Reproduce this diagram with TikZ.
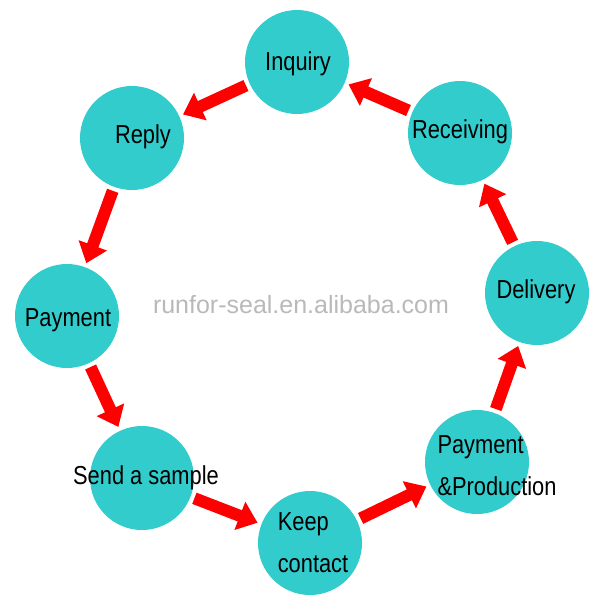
\documentclass[tikz,border=0pt]{standalone}
\usepackage{fontspec}
\setmainfont{Liberation Sans}
\newfontfamily\narrowfont{Liberation Sans}[FakeStretch=0.84]
\usetikzlibrary{arrows.meta,positioning}

\definecolor{stepcyan}{RGB}{51,204,204}
\definecolor{steparrow}{RGB}{255,0,0}

\tikzset{
  stop/.style={circle,fill=stepcyan,minimum size=104pt,inner sep=0pt},
  stoptext/.style={font=\narrowfont\fontsize{26}{42}\selectfont,align=left,inner sep=0pt},
  flow/.style={draw=steparrow,line width=12pt,shorten <=4pt,shorten >=4pt,
    -{Triangle[width=29pt,length=19pt]}}
}

\begin{document}
\begin{tikzpicture}[x=1pt,y=-1pt]
  \useasboundingbox (0,0) rectangle (601,607);

  %the stops of the cycle
  \node[stop] (inquiry) at (297,62) {};
  \node[stop] (reply) at (132,138) {};
  \node[stop] (payment) at (67,316) {};
  \node[stop] (sample) at (142,478) {};
  \node[stop] (contact) at (310,543) {};
  \node[stop] (production) at (477,462) {};
  \node[stop] (delivery) at (537,293) {};
  \node[stop] (receiving) at (460,133) {};

  %their texts
  \node[stoptext] (inquiry-t) at (298,64) {Inquiry};
  \node[stoptext] (reply-t) at (143,137) {Reply};
  \node[stoptext] (payment-t) at (68,320) {Payment};
  \node[stoptext] (sample-t) at (146,478) {Send a sample};
  \node[stoptext] (contact-t) at (313,543) {Keep\\contact};
  \node[stoptext] (production-t) at (497,466) {Payment\\\&Production};
  \node[stoptext] (delivery-t) at (536,292) {Delivery};
  \node[stoptext] (receiving-t) at (460,132) {Receiving};

  %watermark
  \node[font=\fontsize{25}{30}\selectfont,text=gray!55] (mark) at (301,305)
    {runfor-seal.en.alibaba.com};

  %arrows round the cycle
  \draw[flow] (receiving) -- (inquiry);
  \draw[flow] (inquiry) -- (reply);
  \draw[flow] (reply) -- (payment);
  \draw[flow] (payment) -- (sample);
  \draw[flow] (sample) -- (contact);
  \draw[flow] (contact) -- (production);
  \draw[flow] (production) -- (delivery);
  \draw[flow] (delivery) -- (receiving);

\end{tikzpicture}
\end{document}
